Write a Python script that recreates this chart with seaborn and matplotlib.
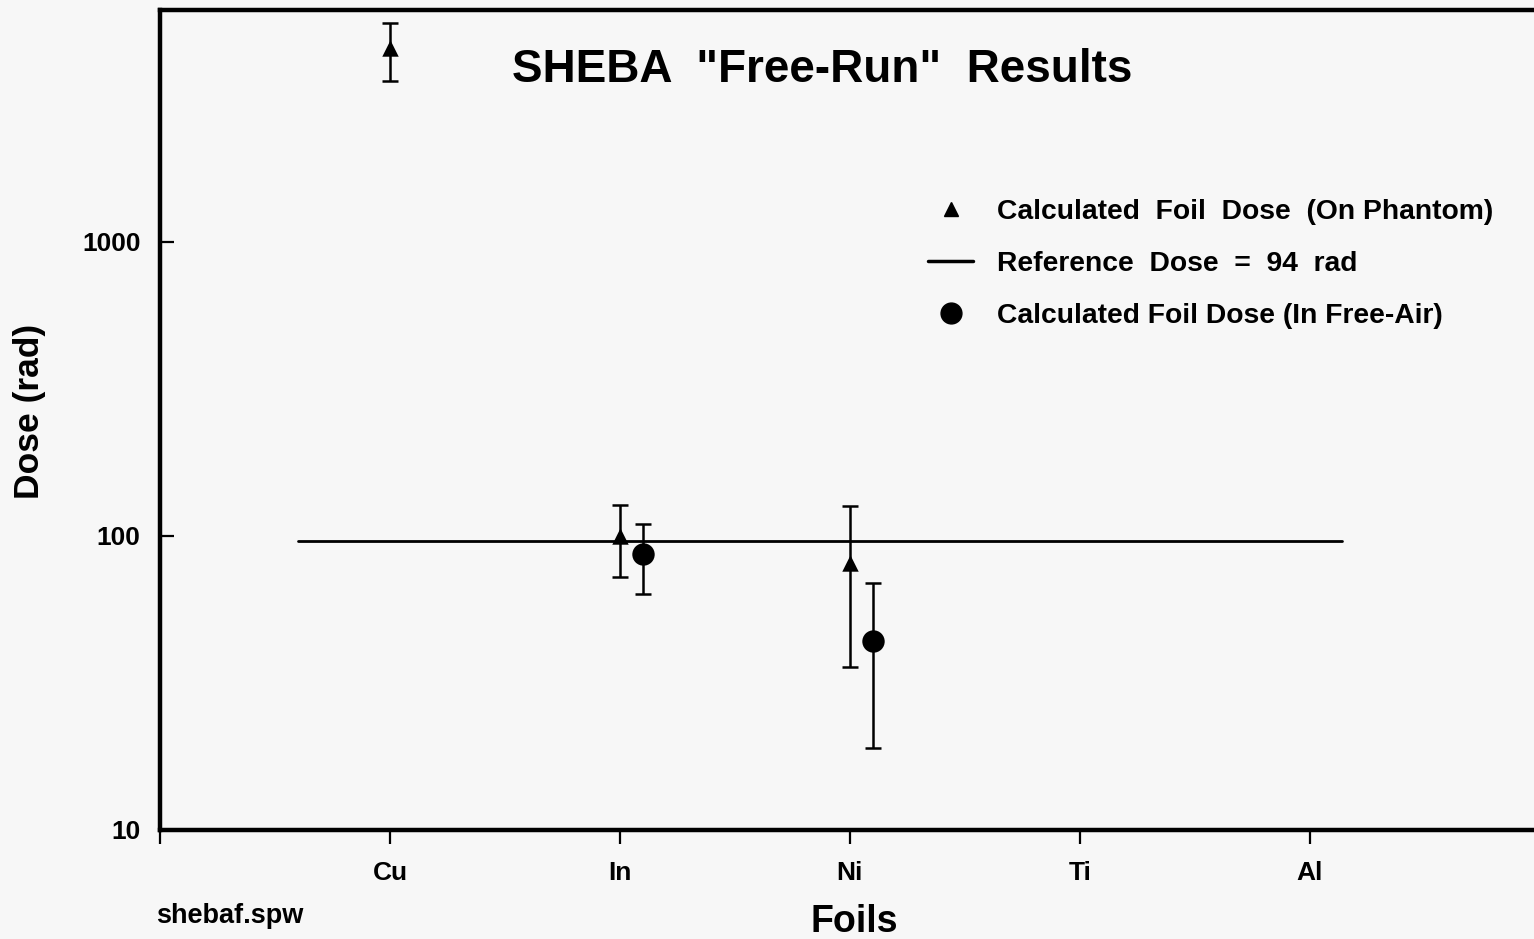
import matplotlib
matplotlib.use("Agg")
import matplotlib.pyplot as plt
from matplotlib.lines import Line2D
import seaborn as sns
import pandas as pd

foils = ["Cu", "In", "Ni", "Ti", "Al"]

# calculated foil dose on phantom (rad)
phantom_foils = ["Cu", "In", "Ni"]
phantom_dose = [4570, 100, 81]
phantom_low = [3530, 72.6, 35.9]
phantom_high = [5560, 127, 126]

# calculated foil dose in free air (rad)
air_foils = ["In", "Ni"]
air_dose = [87, 44]
air_low = [63.5, 19.0]
air_high = [110, 69]

ref_dose = 96
ref_span = [0.6, 5.14]

pos = {f: i + 1 for i, f in enumerate(foils)}
ph = pd.DataFrame({"x": [pos[f] for f in phantom_foils], "dose": phantom_dose,
                   "lo": phantom_low, "hi": phantom_high})
air = pd.DataFrame({"x": [pos[f] + 0.1 for f in air_foils], "dose": air_dose,
                    "lo": air_low, "hi": air_high})

sns.set_theme(style="ticks")
plt.rcParams["font.family"] = ["Liberation Sans", "DejaVu Sans"]
for k in ["text.color", "axes.labelcolor", "xtick.color", "ytick.color"]:
    plt.rcParams[k] = "black"
bg = "#f7f7f7"

fig = plt.figure(figsize=(15.34, 9.39), dpi=100, facecolor=bg)
ax = fig.add_axes([0.1043, 0.1161, 0.9055, 0.8733])
ax.set_facecolor(bg)

ax.plot(ref_span, [ref_dose, ref_dose], color="black", lw=2.0, zorder=2)

for d in (ph, air):
    ax.errorbar(d["x"], d["dose"], yerr=[d["dose"] - d["lo"], d["hi"] - d["dose"]],
                fmt="none", ecolor="black", elinewidth=1.8, capsize=6, capthick=1.8, zorder=3)

sns.scatterplot(data=ph, x="x", y="dose", marker="^", s=140, color="black",
                edgecolor="black", linewidth=0, ax=ax, zorder=4)
sns.scatterplot(data=air, x="x", y="dose", marker="o", s=260, color="black",
                edgecolor="black", linewidth=0, ax=ax, zorder=4)

ax.set_yscale("log")
ax.set_ylim(10, 6150)
ax.set_xlim(0, 6.04)
ax.set_yticks([10, 100, 1000])
ax.set_yticklabels(["10", "100", "1000"])
ax.minorticks_off()
ax.set_xticks(range(0, 6))
ax.set_xticklabels([""] + foils)
for t in ax.get_xticklabels() + ax.get_yticklabels():
    t.set_fontweight("bold")

for s in ["left", "bottom", "top"]:
    ax.spines[s].set_linewidth(3.2)
    ax.spines[s].set_color("black")
ax.spines["right"].set_visible(False)
ax.tick_params(axis="y", direction="in", length=10, width=1.6, labelsize=19, pad=14)
ax.tick_params(axis="x", direction="out", length=10, width=1.6, labelsize=19, pad=12)

ax.set_xlabel("Foils", fontsize=27, fontweight="bold", labelpad=14)
ax.set_ylabel("Dose (rad)", fontsize=25.5, fontweight="bold")
ax.yaxis.set_label_coords(-0.082, 0.51)

fig.text(0.536, 0.9255, 'SHEBA  "Free-Run"  Results', fontsize=33, fontweight="bold",
         ha="center", va="center")
fig.text(0.102, 0.024, "shebaf.spw", fontsize=19.5, fontweight="bold", ha="left", va="center")

handles = [
    Line2D([], [], ls="none", marker="^", ms=10, color="black"),
    Line2D([], [], ls="-", lw=2.5, color="black"),
    Line2D([], [], ls="none", marker="o", ms=15, color="black"),
]
labels = ["Calculated  Foil  Dose  (On Phantom)", "Reference  Dose  =  94  rad",
          "Calculated Foil Dose (In Free-Air)"]
leg = ax.legend(handles, labels, loc="upper left", bbox_to_anchor=(0.553, 0.770),
                frameon=False, fontsize=20.3, handlelength=1.6, handletextpad=0.85,
                labelspacing=0.93, borderpad=0, borderaxespad=0)
for t in leg.get_texts():
    t.set_fontweight("bold")

fig.savefig("out.png", dpi=100, facecolor=bg)
